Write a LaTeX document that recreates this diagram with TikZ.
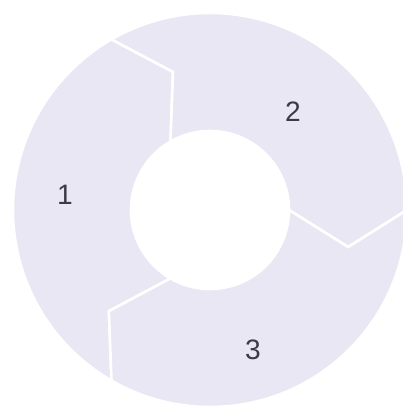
\documentclass[tikz,border=0pt]{standalone}
\usepackage{fontspec}
\setmainfont{Liberation Sans}
\usepackage{xcolor}
\usepackage{tikz}
\definecolor{ringfill}{HTML}{E8E7F3}
\definecolor{labeltext}{HTML}{3A3A48}

\begin{document}
\begin{tikzpicture}[
    scale=0.02,
    segment/.style={fill=ringfill, draw=white, line width=1.5pt, line join=miter},
    num/.style={text=labeltext, font=\fontsize{16}{18}\selectfont, inner sep=0pt},
]
    \useasboundingbox (-210,-197) rectangle (193,210);

    % Ring segments (tail at first angle, head at second)
    \path[segment] (240:197) arc[start angle=240, end angle=120, radius=197]
        -- (105:143) -- (120:79) arc[start angle=120, end angle=240, radius=79]
        -- (225:143) -- cycle;
    \path[segment] (120:197) arc[start angle=120, end angle=0, radius=197]
        -- (-15:143) -- (0:79) arc[start angle=0, end angle=120, radius=79]
        -- (105:143) -- cycle;
    \path[segment] (360:197) arc[start angle=360, end angle=240, radius=197]
        -- (225:143) -- (240:79) arc[start angle=240, end angle=360, radius=79]
        -- (345:143) -- cycle;

    % Labels
    \node[num] (one) at (-145,15) {1};
    \node[num] (two) at (83,98) {2};
    \node[num] (three) at (43,-140) {3};
\end{tikzpicture}
\end{document}
